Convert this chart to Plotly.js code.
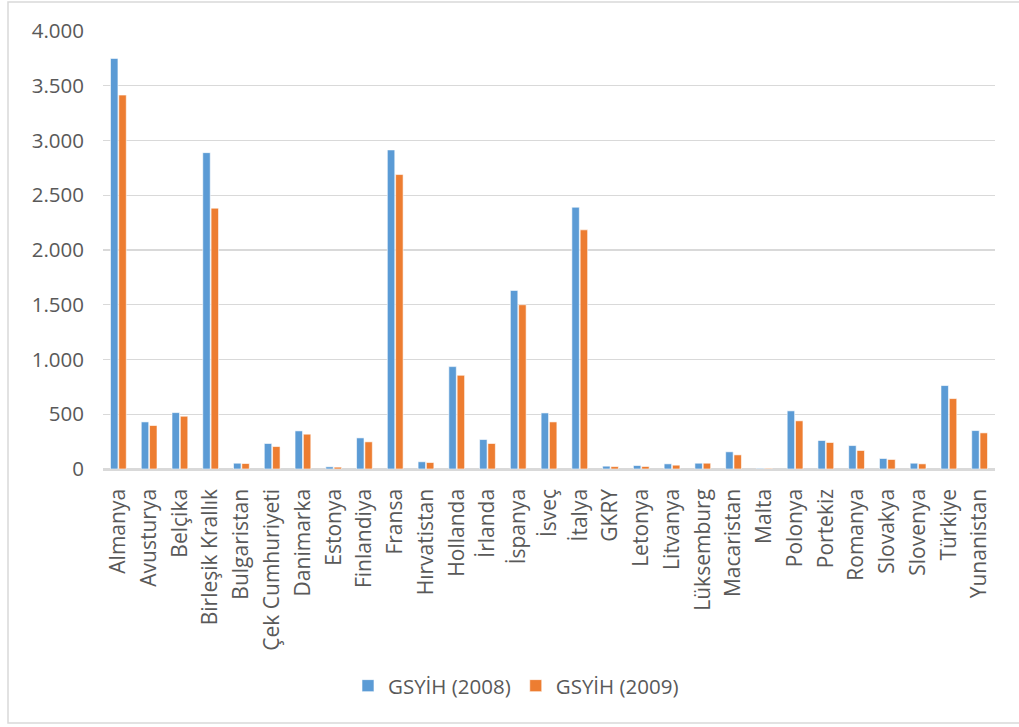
<!DOCTYPE html>
<html>
<head>
<meta charset="utf-8">
<script src="https://cdn.plot.ly/plotly-3.0.1.min.js"></script>
<style>
  html, body { margin: 0; padding: 0; background: #ffffff; }
  #chart { width: 1019px; height: 727px; }
</style>
</head>
<body>
<div id="chart"></div>
<script>
const countries = [
  "Almanya", "Avusturya", "Belçika", "Birleşik Krallık", "Bulgaristan",
  "Çek Cumhuriyeti", "Danimarka", "Estonya", "Finlandiya", "Fransa",
  "Hırvatistan", "Hollanda", "İrlanda", "İspanya", "İsveç", "İtalya",
  "GKRY", "Letonya", "Litvanya", "Lüksemburg", "Macaristan", "Malta",
  "Polonya", "Portekiz", "Romanya", "Slovakya", "Slovenya", "Türkiye",
  "Yunanistan"
];
const gdp2008 = [
  3750, 430, 515, 2889, 53,
  233, 348, 20, 284, 2914,
  66, 935, 269, 1631, 512, 2391,
  26, 32, 47, 53, 157, 6,
  531, 260, 214, 96, 53, 762,
  351
];
const gdp2009 = [
  3415, 397, 482, 2382, 50,
  205, 318, 17, 248, 2689,
  59, 856, 233, 1500, 430, 2184,
  22, 23, 35, 53, 129, 6,
  440, 242, 169, 87, 47, 643,
  330
];
const seriesNames = ["GSYİH (2008)", "GSYİH (2009)"];
const yTicks = [0, 500, 1000, 1500, 2000, 2500, 3000, 3500, 4000];

const font = "Open Sans, Liberation Sans, sans-serif";
const textColor = "#595959";

const traces = [
  {
    type: "bar", name: seriesNames[0], x: countries, y: gdp2008,
    marker: { color: "#5B9BD5", line: { color: "#ffffff", width: 0.6 } },
    hoverinfo: "x+y"
  },
  {
    type: "bar", name: seriesNames[1], x: countries, y: gdp2009,
    marker: { color: "#ED7D31", line: { color: "#ffffff", width: 0.6 } },
    hoverinfo: "x+y"
  }
];

const layout = {
  width: 1019, height: 727,
  margin: { l: 103, r: 24, t: 31, b: 258, pad: 0 },
  paper_bgcolor: "#ffffff", plot_bgcolor: "#ffffff",
  separators: ",.",
  barmode: "group", bargap: 0.46, bargroupgap: 0.1,
  font: { family: font, color: textColor },
  showlegend: true,
  legend: {
    orientation: "h", x: 0.463, xanchor: "center", y: -0.495, yanchor: "middle",
    font: { family: font, size: 20.5, color: textColor },
    itemwidth: 30, traceorder: "normal"
  },
  xaxis: {
    type: "category", tickangle: -90, showgrid: false,
    showline: true, linecolor: "#D9D9D9", linewidth: 1.5,
    ticks: "", tickfont: { family: font, size: 21, color: textColor },
    ticklabelstandoff: 10, fixedrange: true
  },
  yaxis: {
    range: [0, 4000], tickvals: yTicks, tickformat: ",d",
    showgrid: true, gridcolor: "#D9D9D9", gridwidth: 1.4,
    zeroline: true, zerolinecolor: "#D9D9D9", zerolinewidth: 1.5,
    showline: false, ticks: "",
    tickfont: { family: font, size: 20.5, color: textColor },
    ticklabelstandoff: 18, fixedrange: true
  },
  shapes: [
    {
      type: "rect", xref: "paper", yref: "paper",
      x0: (8 - 103) / 892, x1: (1030 - 103) / 892,
      y0: (469 - 723) / 438, y1: (469 - 2) / 438,
      line: { color: "#D9D9D9", width: 1.5 }, fillcolor: "rgba(0,0,0,0)", layer: "below"
    }
  ]
};

Plotly.newPlot("chart", traces, layout, { displayModeBar: false, staticPlot: true });
</script>
</body>
</html>
